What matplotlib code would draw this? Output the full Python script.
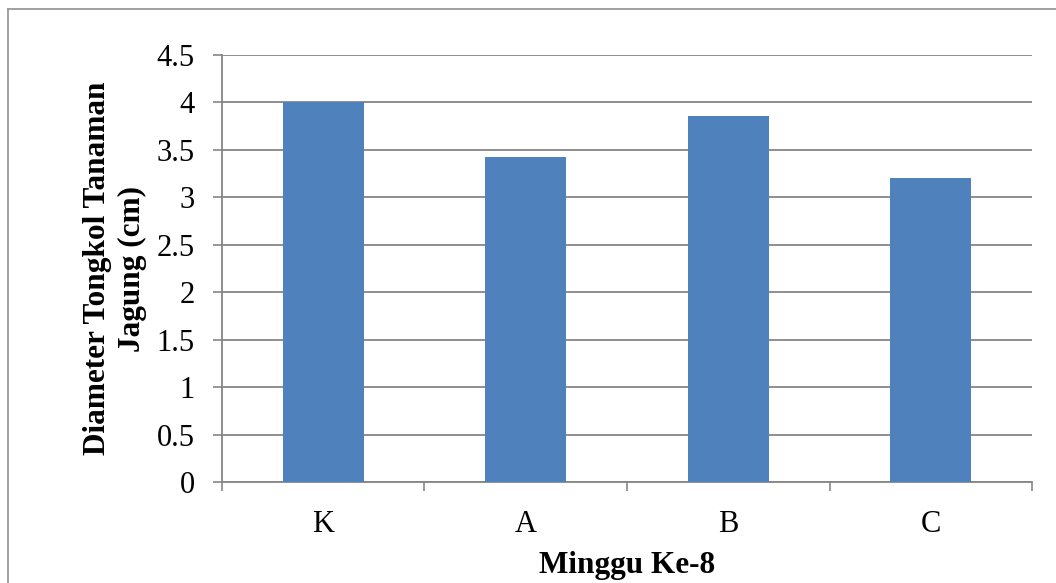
import matplotlib.pyplot as plt
from matplotlib.lines import Line2D
import numpy as np

plt.rcParams['font.family'] = ['Liberation Serif', 'DejaVu Serif']

categories = ['K', 'A', 'B', 'C']
diameter = [4.0, 3.42, 3.86, 3.20]

grid_color = '#868686'
bar_color = '#4F81BD'

fig = plt.figure(figsize=(10.56, 5.83), dpi=100)
ax = fig.add_axes([0.2102, 0.1732, 0.7671, 0.7325])

x = np.arange(len(categories))
ax.bar(x, diameter, width=0.4, color=bar_color, zorder=3)

ax.set_xlim(-0.5, len(categories) - 0.5)
ax.set_ylim(0, 4.5)
ax.set_yticks(np.arange(0, 4.51, 0.5))
ax.set_yticklabels(['0', '0.5', '1', '1.5', '2', '2.5', '3', '3.5', '4', '4.5'])
ax.set_xticks(x)
ax.set_xticklabels(categories)
ax.set_xticks(np.arange(-0.5, len(categories), 1.0), minor=True)

ax.tick_params(axis='y', length=6.5, width=1.2, color=grid_color,
               labelsize=22, pad=13)
ax.tick_params(axis='x', which='major', length=0, labelsize=22, pad=20)
ax.tick_params(axis='x', which='minor', length=6.5, width=1.2, color=grid_color)

ax.yaxis.grid(True, color=grid_color, linewidth=1.3, zorder=0)
ax.set_axisbelow(True)
for side in ['top', 'right']:
    ax.spines[side].set_visible(False)
for side in ['left', 'bottom']:
    ax.spines[side].set_color(grid_color)
    ax.spines[side].set_linewidth(1.3)

ax.set_xlabel('Minggu Ke-8', fontsize=22.5, fontweight='bold', labelpad=9)
ax.set_ylabel('Diameter Tongkol Tanaman\nJagung (cm)', fontsize=22.5,
              fontweight='bold', labelpad=7, linespacing=1.25)

# chart frame (top and left edges only)
fig.add_artist(Line2D([8 / 1056, 8 / 1056], [0, 1 - 9 / 583],
                      transform=fig.transFigure, color='#9a9a9a', linewidth=1.3))
fig.add_artist(Line2D([8 / 1056, 1], [1 - 9 / 583, 1 - 9 / 583],
                      transform=fig.transFigure, color='#9a9a9a', linewidth=1.3))

fig.savefig('out.png', dpi=100)
